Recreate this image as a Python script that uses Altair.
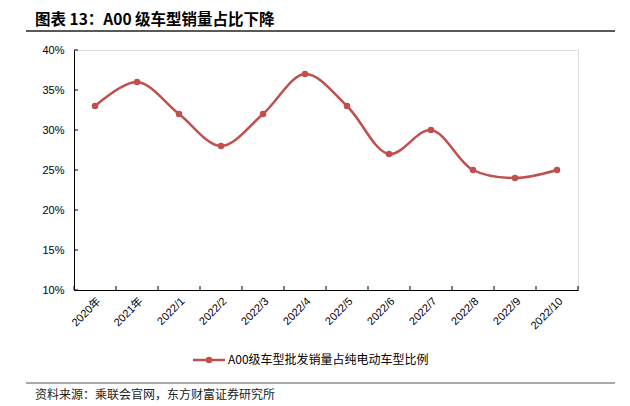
import altair as alt
import pandas as pd

categories = ["2020年", "2021年", "2022/1", "2022/2", "2022/3", "2022/4",
              "2022/5", "2022/6", "2022/7", "2022/8", "2022/9", "2022/10"]
share = [0.33, 0.36, 0.32, 0.28, 0.32, 0.37, 0.33, 0.27, 0.30, 0.25, 0.24, 0.25]
y_ticks = [0.10, 0.15, 0.20, 0.25, 0.30, 0.35, 0.40]
series_name = "A00级车型批发销量占纯电动车型比例"
title_text = "图表 13：A00 级车型销量占比下降"
source_text = "资料来源：乘联会官网，东方财富证券研究所"

W, H = 504, 240
RED = "#C0504D"
LAT = "Liberation Sans, Noto Sans CJK SC"
CJK = "Noto Sans CJK SC"

df = pd.DataFrame({"cat": categories, "v": share})

x_scale = alt.Scale(type="band", paddingInner=0, paddingOuter=0)
x_axis = alt.Axis(title=None, labelAngle=-45, ticks=False, grid=False,
                  domainColor="black", domainWidth=1, labelOverlap=False,
                  labelFont=LAT, labelFontSize=11, labelColor="black",
                  labelPadding=5)
y_scale = alt.Scale(domain=[0.1, 0.4], nice=False, zero=False)
y_axis = alt.Axis(title=None, format=".0%", values=y_ticks, ticks=False,
                  grid=False, domainColor="black", domainWidth=1,
                  labelOverlap=False, labelFlush=False,
                  labelFont=LAT, labelFontSize=11, labelColor="black",
                  labelPadding=10)

xenc = alt.X("cat:N", sort=categories, bandPosition=0.5, scale=x_scale, axis=x_axis)
yenc = alt.Y("v:Q", scale=y_scale, axis=y_axis)

line = alt.Chart(df).mark_line(color=RED, strokeWidth=2.5,
                               interpolate="catmull-rom").encode(x=xenc, y=yenc)
pts = alt.Chart(df).mark_circle(color=RED, size=42, opacity=1).encode(x=xenc, y=yenc)

ytick = alt.Chart(pd.DataFrame({"v": y_ticks})).mark_rule(color="black").encode(
    y=yenc, x=alt.value(0), x2=alt.value(4))
xtick = alt.Chart(df).mark_rule(color="black").encode(
    x=alt.X("cat:N", sort=categories, bandPosition=0, scale=x_scale, axis=x_axis),
    y=alt.value(H), y2=alt.value(H - 4))
xtick_end = alt.Chart(df.head(1)).mark_rule(color="black").encode(
    x=alt.value(W), y=alt.value(H), y2=alt.value(H - 4))

deco = pd.DataFrame({"t": [title_text]})
title = alt.Chart(deco).mark_text(font=CJK, fontSize=15.5, fontWeight="bold",
                                  align="left", baseline="middle", color="black").encode(
    text="t:N", x=alt.value(-39), y=alt.value(-30))
top_rule = alt.Chart(deco).mark_rule(color="#222222", strokeWidth=1.5).encode(
    x=alt.value(-48), x2=alt.value(541), y=alt.value(-19))
bot_rule = alt.Chart(deco).mark_rule(color="#555555", strokeWidth=1).encode(
    x=alt.value(-48), x2=alt.value(541), y=alt.value(333))
source = alt.Chart(pd.DataFrame({"t": [source_text]})).mark_text(
    font=CJK, fontSize=12, align="left", baseline="middle", color="#222222").encode(
    text="t:N", x=alt.value(-39), y=alt.value(345))

leg_line = alt.Chart(deco).mark_rule(color=RED, strokeWidth=2.5).encode(
    x=alt.value(119), x2=alt.value(151), y=alt.value(310))
leg_pt = alt.Chart(deco).mark_circle(color=RED, size=42, opacity=1).encode(
    x=alt.value(135), y=alt.value(310))
leg_txt = alt.Chart(pd.DataFrame({"t": [series_name]})).mark_text(
    font=CJK, fontSize=12, align="left", baseline="middle", color="black").encode(
    text="t:N", x=alt.value(154), y=alt.value(310))

chart = alt.layer(line, pts, ytick, xtick, xtick_end, title, top_rule, bot_rule,
                  source, leg_line, leg_pt, leg_txt).properties(
    width=W, height=H,
    autosize=alt.AutoSizeParams(type="none"),
    padding={"left": 66, "top": 42, "right": 44, "bottom": 116},
).configure_view(stroke=None).configure(background="white")

chart.save("out.html", embed_options={"renderer": "svg", "actions": False})
